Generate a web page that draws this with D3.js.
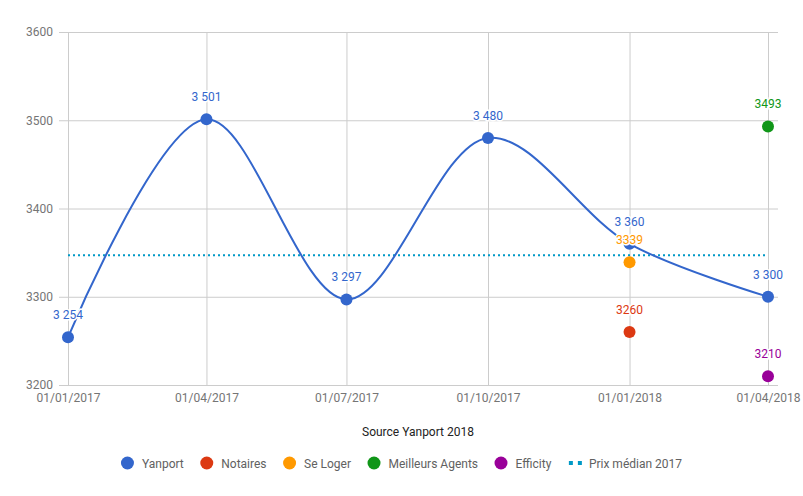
<!DOCTYPE html>
<html>
<head>
<meta charset="utf-8">
<script src="https://cdn.jsdelivr.net/npm/d3@7"></script>
<style>
  body { margin: 0; background: #fff; }
  text { font-family: Roboto, "Noto Sans", sans-serif; }
</style>
</head>
<body>
<div id="chart"></div>
<script>
// data
var dates = ["2017-01-01", "2017-04-01", "2017-07-01", "2017-10-01", "2018-01-01", "2018-04-01"]
var yanport = [3254, 3501, 3297, 3480, 3360, 3300]
var others = [
  { name: "Notaires", date: "2018-01-01", value: 3260, color: "#dc3912" },
  { name: "Se Loger", date: "2018-01-01", value: 3339, color: "#ff9900" },
  { name: "Meilleurs Agents", date: "2018-04-01", value: 3493, color: "#109618" },
  { name: "Efficity", date: "2018-04-01", value: 3210, color: "#990099" }
]
var median2017 = 3347
var yTicks = [3200, 3300, 3400, 3500, 3600]

var width = 803
height = 496

var parse = d3.timeParse("%Y-%m-%d")
var frFormat = d3.formatLocale({ decimal: ",", thousands: " ", grouping: [3], currency: ["", " €"] }).format(",d")

var svg = d3.select("#chart")
    .append("svg")
    .attr("width", width)
    .attr("height", height)

var x = d3.scaleTime()
    .domain([parse(dates[0]), parse(dates[dates.length - 1])])
    .range([68, 768])

var y = d3.scaleLinear()
    .domain([3200, 3600])
    .range([385, 32])

// horizontal grid + y labels
var yAxis = svg.append("g")
    .attr("transform", "translate(778,0)")
    .call(d3.axisLeft(y).tickValues(yTicks).tickSize(719).tickPadding(6).tickFormat(d3.format("d")))
yAxis.select(".domain").remove()
yAxis.selectAll("line").attr("stroke", "#cccccc")
yAxis.selectAll("text").attr("fill", "#757575").style("font-size", "12px")

// vertical grid + x labels
var xAxis = svg.append("g")
    .attr("transform", "translate(0,385)")
    .call(d3.axisBottom(x).tickValues(dates.map(parse)).tickSize(-353).tickPadding(8).tickFormat(d3.timeFormat("%d/%m/%Y")))
xAxis.select(".domain").remove()
xAxis.selectAll("line").attr("stroke", "#cccccc")
xAxis.selectAll("text").attr("fill", "#757575").style("font-size", "12px")

// median line
svg.append("line")
    .attr("x1", x(parse(dates[0])))
    .attr("x2", x(parse(dates[dates.length - 1])))
    .attr("y1", y(median2017))
    .attr("y2", y(median2017))
    .attr("stroke", "#0099c6")
    .attr("stroke-width", 2)
    .attr("stroke-dasharray", "2,3")

// yanport curve
var yanData = dates.map(function (d, i) { return { date: parse(d), value: yanport[i] } })
var line = d3.line()
    .x(function (d) { return x(d.date) })
    .y(function (d) { return y(d.value) })
    .curve(d3.curveCatmullRom.alpha(0.5))

svg.append("path")
    .datum(yanData)
    .attr("d", line)
    .attr("fill", "none")
    .attr("stroke", "#3366cc")
    .attr("stroke-width", 2)

svg.selectAll(".yan-dot")
    .data(yanData)
    .enter()
    .append("circle")
    .attr("cx", function (d) { return x(d.date) })
    .attr("cy", function (d) { return y(d.value) })
    .attr("r", 6)
    .attr("fill", "#3366cc")

var otherData = others.map(function (o) { return { name: o.name, date: parse(o.date), value: o.value, color: o.color } })
svg.selectAll(".other-dot")
    .data(otherData)
    .enter()
    .append("circle")
    .attr("cx", function (d) { return x(d.date) })
    .attr("cy", function (d) { return y(d.value) })
    .attr("r", 6)
    .attr("fill", function (d) { return d.color })

// annotations with white halo
function label(sel, fmt, color) {
  sel.enter()
    .append("text")
    .attr("x", function (d) { return x(d.date) })
    .attr("y", function (d) { return y(d.value) - 18 })
    .attr("text-anchor", "middle")
    .style("font-size", "12px")
    .attr("fill", color)
    .attr("stroke", "#fff")
    .attr("stroke-width", 3)
    .attr("paint-order", "stroke")
    .text(function (d) { return fmt(d.value) })
}
svg.selectAll(".yan-label").data(yanData).call(label, frFormat, "#3366cc")
svg.selectAll(".other-label").data(otherData).call(label, function (v) { return v }, function (d) { return d.color })

// axis title
svg.append("text")
    .attr("x", 418)
    .attr("y", 436)
    .attr("text-anchor", "middle")
    .style("font-size", "12px")
    .attr("fill", "#222")
    .text("Source Yanport 2018")

// legend
var legendItems = [{ name: "Yanport", color: "#3366cc", type: "dot" }]
    .concat(others.map(function (o) { return { name: o.name, color: o.color, type: "dot" } }))
    .concat([{ name: "Prix médian 2017", color: "#0099c6", type: "dash" }])

var legend = svg.append("g")
var cursor = 0
legendItems.forEach(function (it) {
  var g = legend.append("g").attr("transform", "translate(" + cursor + ",0)")
  if (it.type == "dot") {
    g.append("circle").attr("cx", 6.5).attr("cy", 0).attr("r", 6.5).attr("fill", it.color)
  } else {
    g.append("line").attr("x1", 1).attr("x2", 14).attr("y1", 0).attr("y2", 0)
      .attr("stroke", it.color).attr("stroke-width", 4).attr("stroke-dasharray", "4,5")
  }
  var t = g.append("text")
    .attr("x", 21)
    .attr("y", 4.5)
    .style("font-size", "12px")
    .attr("fill", "#616161")
    .text(it.name)
  cursor += 21 + t.node().getComputedTextLength() + 16.5
})
cursor -= 16.5
legend.attr("transform", "translate(" + (width / 2 - cursor / 2) + ",463)")
</script>
</body>
</html>
